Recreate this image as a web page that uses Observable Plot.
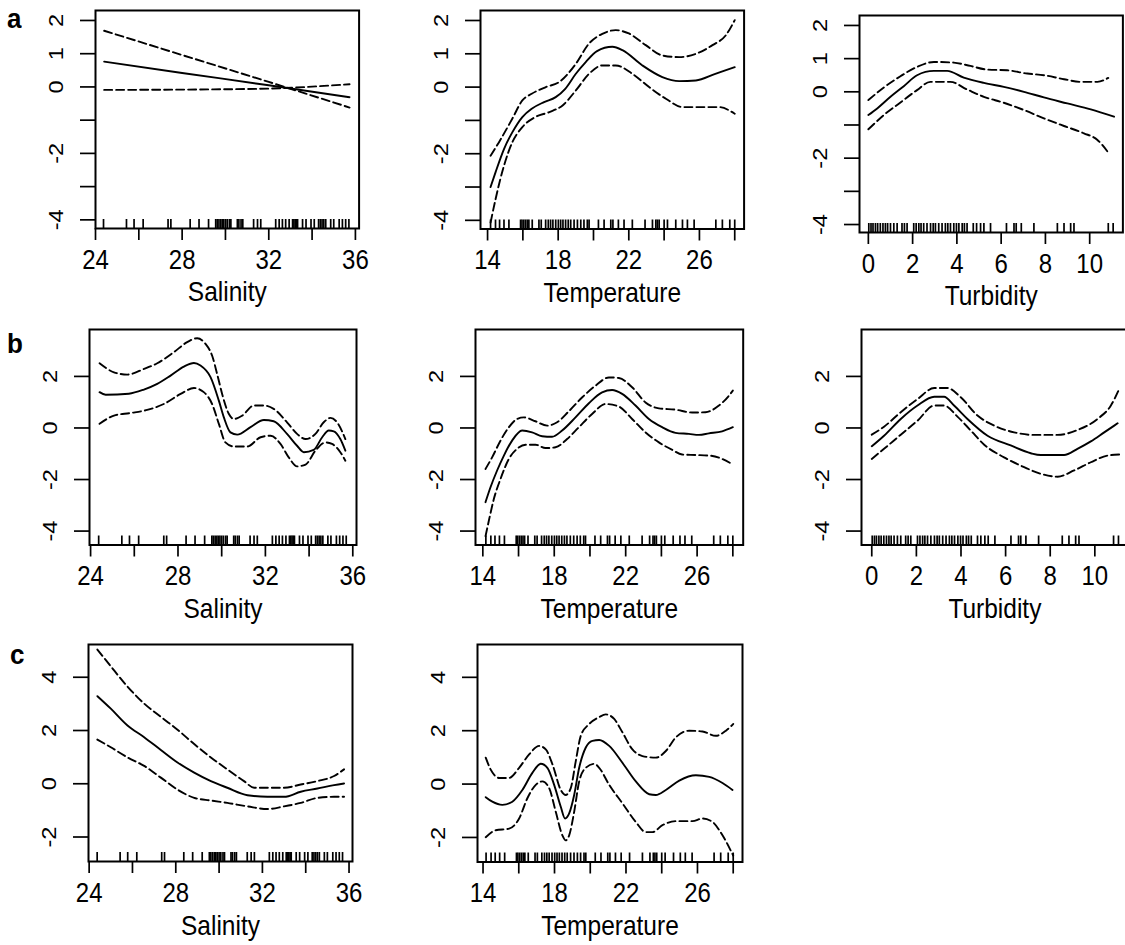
<!DOCTYPE html>
<html><head><meta charset="utf-8">
<script src="https://cdn.jsdelivr.net/npm/d3@7"></script>
<script src="https://cdn.jsdelivr.net/npm/@observablehq/plot@0.6"></script>
<style>
html,body{margin:0;padding:0;background:#fff;overflow:hidden;}
#wrap{position:relative;width:1125px;height:945px;overflow:hidden;background:#fff;}
.lab{position:absolute;font:bold 26px "Liberation Sans",Arial,sans-serif;line-height:1;color:#000;transform-origin:0 0;transform:scaleY(1.08);}
</style></head><body><div id="wrap"></div>
<script>
// ---------- tick values ----------
const salTicks = [24,26,28,30,32,34,36];
const salLabels = [24,28,32,36];
const tempTicks = [14,16,18,20,22,24,26,28];
const tempLabels = [14,18,22,26];
const turbTicks = [0,2,4,6,8,10];
const turbLabels = [0,2,4,6,8,10];
const yTicksA = [-4,-3,-2,-1,0,1,2];
const yLabelsA = [-4,-2,0,1,2];
const yTicksB = [-4,-2,0,2];
const yLabelsB = [-4,-2,0,2];
const yTicksC = [-2,0,2,4];
const yLabelsC = [-2,0,2,4];

// ---------- rug (observations) ----------
const salRug = [24.37,25.43,25.78,26.2,27.35,27.48,28.37,28.78,29.22,29.55,29.62,29.7,29.78,29.85,29.92,30.0,30.08,30.18,30.25,30.55,30.62,30.72,30.8,31.3,31.48,31.63,32.32,32.48,32.63,32.78,32.94,33.1,33.16,33.22,33.28,33.33,33.56,33.72,33.95,34.1,34.3,34.38,34.46,34.54,34.63,34.86,35.0,35.25,35.4,35.55,35.7];
const tempRug = [14.17,14.45,14.68,14.93,15.21,15.87,15.95,16.05,16.15,16.25,16.34,16.53,16.91,17.04,17.29,17.44,17.57,17.7,17.86,18.01,18.14,18.27,18.42,18.57,18.71,18.9,19.09,19.28,19.46,19.65,19.75,20.28,20.6,20.98,21.1,21.41,21.73,22.2,22.92,23.34,23.53,23.62,23.72,24.0,24.19,24.66,25.04,25.32,25.7,26.93,27.3,27.72,28.0];
const turbRug = [0.02,0.12,0.21,0.32,0.42,0.54,0.66,0.77,0.87,1.0,1.15,1.3,1.52,1.63,1.75,2.05,2.16,2.28,2.38,2.5,2.65,2.81,2.93,3.03,3.18,3.33,3.48,3.59,3.71,3.86,3.98,4.09,4.24,4.34,4.46,4.74,4.89,5.07,5.22,5.52,6.24,6.58,6.68,6.91,7.48,8.54,8.84,9.14,9.29,10.84,11.06];

// ---------- row a ----------
const aSalFit = [[24.4,0.76],[28,0.42],[32,0.05],[35.73,-0.31]];
const aSalHi  = [[24.4,1.69],[28,0.96],[32,0.15],[35.73,-0.62]];
const aSalLo  = [[24.4,-0.09],[30,-0.07],[32,-0.05],[35.73,0.08]];

const aTempFit = [[14.17,-3.0],[14.45,-2.56],[14.93,-1.86],[15.4,-1.36],[15.97,-0.9],[16.5,-0.65],[17.2,-0.45],[17.86,-0.3],[18.4,-0.05],[19.0,0.4],[19.56,0.75],[20.2,1.08],[21.07,1.21],[21.64,1.11],[22.77,0.65],[23.9,0.3],[24.85,0.18],[25.8,0.2],[26.9,0.4],[28.0,0.6]];
const aTempHi  = [[14.17,-2.06],[14.64,-1.66],[15.4,-0.95],[15.97,-0.4],[16.5,-0.2],[17.3,0.0],[18.05,0.15],[19.0,0.7],[19.75,1.31],[20.5,1.6],[21.26,1.71],[22.0,1.61],[22.96,1.26],[23.9,0.95],[24.85,0.9],[25.8,1.0],[26.74,1.26],[27.5,1.56],[28.0,2.01]];
const aTempLo  = [[14.17,-4.07],[14.45,-3.37],[14.93,-2.36],[15.4,-1.66],[15.97,-1.2],[16.7,-0.9],[17.5,-0.75],[18.25,-0.55],[19.0,-0.1],[19.75,0.4],[20.5,0.65],[21.26,0.65],[22.2,0.4],[23.15,0.0],[24.1,-0.35],[25.04,-0.6],[25.98,-0.6],[27.1,-0.6],[28.0,-0.8]];

const aTurbFit = [[0,-0.7],[0.4,-0.5],[1.0,-0.15],[1.6,0.17],[2.2,0.5],[2.96,0.63],[3.56,0.63],[4.31,0.43],[5.22,0.27],[6.12,0.15],[7.03,0.0],[7.93,-0.17],[8.99,-0.35],[10.05,-0.53],[11.1,-0.75]];
const aTurbHi  = [[0,-0.25],[0.7,0.13],[1.45,0.47],[2.2,0.75],[2.96,0.9],[3.86,0.88],[4.61,0.78],[5.37,0.67],[6.27,0.65],[7.18,0.55],[7.93,0.5],[8.84,0.38],[9.59,0.3],[10.35,0.3],[10.84,0.42]];
const aTurbLo  = [[0,-1.13],[0.7,-0.7],[1.45,-0.32],[2.2,0.05],[2.8,0.3],[3.7,0.3],[4.46,0.07],[5.22,-0.15],[6.12,-0.33],[7.03,-0.55],[7.93,-0.8],[8.84,-1.03],[9.74,-1.25],[10.35,-1.45],[10.84,-1.83]];

// ---------- row b ----------
const bSalFit = [[24.41,1.39],[24.69,1.29],[25.75,1.33],[26.44,1.49],[27.05,1.71],[27.66,2.03],[28.27,2.38],[28.73,2.52],[29.03,2.42],[29.49,1.97],[29.87,1.06],[30.1,0.41],[30.4,-0.17],[30.71,-0.26],[31.32,0.03],[31.93,0.31],[32.38,0.26],[32.99,-0.23],[33.45,-0.69],[33.76,-0.94],[34.21,-0.85],[34.6,-0.36],[34.9,-0.1],[35.13,-0.13],[35.43,-0.43],[35.66,-0.88]];
const bSalHi  = [[24.41,2.51],[25.07,2.16],[25.68,2.07],[26.44,2.29],[27.05,2.51],[27.81,2.94],[28.42,3.33],[28.88,3.48],[29.26,3.26],[29.56,2.81],[29.79,2.1],[30.02,1.32],[30.33,0.54],[30.56,0.35],[30.94,0.48],[31.47,0.87],[31.93,0.87],[32.38,0.74],[32.99,0.22],[33.45,-0.23],[33.84,-0.43],[34.29,-0.23],[34.67,0.22],[34.98,0.39],[35.28,0.22],[35.66,-0.43]];
const bSalLo  = [[24.41,0.16],[25.07,0.48],[25.83,0.58],[26.59,0.7],[27.35,0.93],[28.12,1.32],[28.73,1.55],[29.18,1.39],[29.56,0.93],[29.87,0.16],[30.17,-0.56],[30.56,-0.72],[31.17,-0.72],[31.78,-0.36],[32.24,-0.3],[32.69,-0.62],[33.07,-1.14],[33.45,-1.49],[33.84,-1.42],[34.29,-0.88],[34.75,-0.56],[35.05,-0.62],[35.43,-0.94],[35.66,-1.27]];

const bTempFit = [[14.15,-2.88],[14.43,-2.3],[14.8,-1.65],[15.18,-1.07],[15.64,-0.49],[16.2,-0.1],[16.76,-0.17],[17.32,-0.32],[17.88,-0.34],[18.44,-0.1],[19.19,0.41],[19.94,0.96],[20.68,1.38],[21.24,1.47],[21.8,1.32],[22.55,0.87],[23.3,0.35],[24.04,0.03],[24.79,-0.19],[25.54,-0.23],[26.1,-0.27],[26.66,-0.21],[27.4,-0.13],[28.0,0.03]];
const bTempHi  = [[14.15,-1.59],[14.52,-1.14],[14.99,-0.49],[15.46,0.03],[15.92,0.35],[16.3,0.41],[16.95,0.26],[17.6,0.09],[18.16,0.22],[18.82,0.65],[19.57,1.19],[20.31,1.64],[21.06,1.96],[21.62,1.94],[22.36,1.58],[23.11,0.99],[23.86,0.76],[24.79,0.71],[25.72,0.6],[26.47,0.61],[27.22,0.87],[27.78,1.25],[28.0,1.45]];
const bTempLo  = [[14.15,-4.2],[14.34,-3.59],[14.62,-2.75],[14.99,-1.98],[15.46,-1.2],[15.92,-0.81],[16.39,-0.65],[16.95,-0.65],[17.51,-0.78],[18.07,-0.75],[18.72,-0.43],[19.38,0.03],[20.12,0.54],[20.87,0.93],[21.62,0.83],[22.36,0.35],[23.11,-0.17],[23.86,-0.56],[24.61,-0.85],[25.16,-1.03],[25.91,-1.05],[26.66,-1.07],[27.4,-1.2],[28.0,-1.42]];

const bTurbFit = [[0,-0.71],[0.55,-0.3],[1.3,0.35],[2.05,0.87],[2.8,1.21],[3.24,1.21],[3.69,0.87],[4.29,0.35],[5.19,-0.3],[6.23,-0.68],[7.13,-0.98],[7.58,-1.05],[8.62,-1.05],[9.22,-0.81],[9.82,-0.52],[10.42,-0.17],[11.02,0.18]];
const bTurbHi  = [[0,-0.26],[0.55,0.05],[1.3,0.61],[2.05,1.12],[2.8,1.55],[3.39,1.55],[3.99,1.19],[4.74,0.48],[5.49,0.09],[6.38,-0.17],[7.28,-0.27],[8.33,-0.27],[9.22,-0.08],[10.12,0.35],[10.72,0.87],[11.09,1.51]];
const bTurbLo  = [[0,-1.2],[0.55,-0.81],[1.3,-0.26],[2.05,0.28],[2.8,0.87],[3.24,0.87],[3.84,0.44],[4.44,-0.1],[5.04,-0.65],[5.93,-1.14],[6.83,-1.52],[7.58,-1.78],[8.33,-1.89],[9.07,-1.65],[9.82,-1.33],[10.57,-1.07],[11.09,-1.03]];

// ---------- row c ----------
const cSalFit = [[24.38,3.29],[25.0,2.82],[25.77,2.19],[26.54,1.75],[27.31,1.27],[28.08,0.8],[28.85,0.42],[29.62,0.1],[30.38,-0.15],[31.31,-0.43],[32.23,-0.49],[33.0,-0.49],[33.77,-0.3],[34.54,-0.18],[35.31,-0.05],[35.77,0.01]];
const cSalHi  = [[24.38,5.04],[25.0,4.41],[25.77,3.65],[26.54,3.01],[27.31,2.51],[28.08,2.03],[28.85,1.49],[29.62,0.99],[30.38,0.54],[31.15,0.1],[31.62,-0.15],[32.23,-0.15],[33.0,-0.15],[33.77,-0.03],[34.54,0.1],[35.31,0.29],[35.77,0.54]];
const cSalLo  = [[24.38,1.66],[25.0,1.37],[25.77,0.99],[26.54,0.67],[27.31,0.23],[28.08,-0.22],[28.85,-0.53],[29.62,-0.63],[30.38,-0.72],[31.31,-0.85],[32.23,-0.95],[33.0,-0.85],[33.77,-0.72],[34.54,-0.53],[35.31,-0.49],[35.77,-0.49]];

const cTempFit = [[14.15,-0.49],[14.52,-0.66],[15.08,-0.78],[15.64,-0.66],[16.2,-0.22],[16.76,0.42],[17.23,0.76],[17.6,0.61],[17.98,-0.03],[18.35,-0.85],[18.59,-1.29],[18.82,-1.1],[19.1,-0.41],[19.38,0.61],[19.75,1.37],[20.12,1.62],[20.5,1.65],[21.06,1.43],[21.8,0.8],[22.55,0.1],[23.3,-0.38],[23.67,-0.41],[24.23,-0.22],[24.98,0.13],[25.91,0.33],[26.66,0.27],[27.4,0.04],[27.96,-0.22]];
const cTempHi  = [[14.15,0.99],[14.43,0.54],[14.9,0.23],[15.46,0.23],[16.02,0.61],[16.58,1.11],[17.14,1.43],[17.51,1.3],[17.89,0.73],[18.35,-0.22],[18.63,-0.41],[18.91,-0.15],[19.19,0.86],[19.47,1.81],[19.94,2.25],[20.5,2.51],[20.87,2.61],[21.34,2.44],[21.8,1.94],[22.36,1.3],[22.92,1.05],[23.67,0.99],[24.23,1.24],[24.79,1.75],[25.54,2.0],[26.28,1.97],[27.03,1.81],[27.59,2.0],[28.0,2.25]];
const cTempLo  = [[14.15,-1.99],[14.71,-1.73],[15.46,-1.67],[16.02,-1.29],[16.48,-0.53],[16.95,-0.03],[17.32,0.1],[17.7,-0.15],[18.07,-1.04],[18.44,-1.92],[18.63,-2.11],[18.82,-1.92],[19.1,-1.04],[19.38,0.1],[19.75,0.61],[20.22,0.76],[20.5,0.61],[21.06,-0.03],[21.8,-0.72],[22.55,-1.42],[23.11,-1.8],[23.48,-1.8],[24.04,-1.54],[24.79,-1.39],[25.72,-1.39],[26.28,-1.29],[26.84,-1.42],[27.4,-1.92],[28.0,-2.68]];

// ---------- layout (page pixel frames) ----------
const panels = [
  {L:94.7, R:358.3, T:10,  B:228,   xd:[24,36.17],   yd:[-4.26,2.3],  xt:salTicks,  xl:salLabels,  yt:yTicksA, yl:yLabelsA, rug:salRug,  fit:aSalFit,  hi:aSalHi,  lo:aSalLo,  title:"Salinity"},
  {L:479.7,R:743.3, T:9.5, B:228,   xd:[13.6,28.53], yd:[-4.26,2.3],  xt:tempTicks, xl:tempLabels, yt:yTicksA, yl:yLabelsA, rug:tempRug, fit:aTempFit, hi:aTempHi, lo:aTempLo, title:"Temperature"},
  {L:859.3,R:1122.7,T:15,  B:232,   xd:[-0.4,11.5],  yd:[-4.24,2.3],  xt:turbTicks, xl:turbLabels, yt:yTicksA, yl:yLabelsA, rug:turbRug, fit:aTurbFit, hi:aTurbHi, lo:aTurbLo, title:"Turbidity"},
  {L:89,   R:356,   T:329, B:544.5, xd:[23.95,36.17],yd:[-4.54,3.82], xt:salTicks,  xl:salLabels,  yt:yTicksB, yl:yLabelsB, rug:salRug,  fit:bSalFit,  hi:bSalHi,  lo:bSalLo,  title:"Salinity"},
  {L:475,  R:742.7, T:329, B:544.5, xd:[13.59,28.58],yd:[-4.54,3.82], xt:tempTicks, xl:tempLabels, yt:yTicksB, yl:yLabelsB, rug:tempRug, fit:bTempFit, hi:bTempHi, lo:bTempLo, title:"Temperature"},
  {L:860.7,R:1127.5,T:328.5,B:544,  xd:[-0.46,11.5], yd:[-4.54,3.82], xt:turbTicks, xl:turbLabels, yt:yTicksB, yl:yLabelsB, rug:turbRug, fit:bTurbFit, hi:bTurbHi, lo:bTurbLo, title:"Turbidity"},
  {L:87.7, R:351.7, T:644, B:861,   xd:[23.97,36.16],yd:[-2.92,5.23], xt:salTicks,  xl:salLabels,  yt:yTicksC, yl:yLabelsC, rug:salRug,  fit:cSalFit,  hi:cSalHi,  lo:cSalLo,  title:"Salinity"},
  {L:476.7,R:741.7, T:644, B:861.5, xd:[13.69,28.52],yd:[-2.92,5.23], xt:tempTicks, xl:tempLabels, yt:yTicksC, yl:yLabelsC, rug:tempRug, fit:cTempFit, hi:cTempHi, lo:cTempLo, title:"Temperature"}
];

const wrap = document.getElementById("wrap");
const FONT = "Liberation Sans, Arial, Helvetica, sans-serif";

function stretch(nodes, s) {
  nodes.forEach(t => {
    const tr = t.getAttribute("transform") || "";
    t.setAttribute("transform", (tr + " " + s).trim());
  });
}

function drawPanel(p) {
  const ml = 70, mr = 4, mt = 6, mb = 82;
  const w = p.R - p.L + ml + mr, h = p.B - p.T + mt + mb;
  const innerH = p.B - p.T;
  const chart = Plot.plot({
    width: w, height: h,
    marginLeft: ml, marginRight: mr, marginTop: mt, marginBottom: mb,
    x: {domain: p.xd, label: null},
    y: {domain: p.yd, label: null},
    style: {fontFamily: FONT, fontSize: "24px", color: "#000", background: "transparent", overflow: "visible", maxWidth: "none"},
    marks: [
      Plot.tickX(p.rug, {x: d => d, insetTop: innerH - 9, stroke: "#000", strokeWidth: 1.7}),
      Plot.line(p.lo, {x: d => d[0], y: d => d[1], stroke: "#000", strokeWidth: 1.9, strokeDasharray: "8,4", curve: "monotone-x"}),
      Plot.line(p.hi, {x: d => d[0], y: d => d[1], stroke: "#000", strokeWidth: 1.9, strokeDasharray: "8,4", curve: "monotone-x"}),
      Plot.line(p.fit, {x: d => d[0], y: d => d[1], stroke: "#000", strokeWidth: 1.9, curve: "monotone-x"}),
      Plot.frame({stroke: "#000", strokeWidth: 2}),
      Plot.axisX({ticks: p.xt, tickSize: 12, tickPadding: 8.5, strokeWidth: 1.7, stroke: "#000",
                  tickFormat: d => p.xl.includes(d) ? String(d) : "", label: null}),
      Plot.axisY({ticks: p.yt, tickSize: 15, strokeWidth: 1.7, stroke: "#000", tickFormat: () => "", label: null}),
      Plot.text(p.yl, {y: d => d, text: d => String(d), frameAnchor: "left", dx: -33, rotate: -90,
                       textAnchor: "middle", lineAnchor: "bottom", fontSize: 20.5, fill: "#000"}),
      Plot.text([p.title], {text: d => d, frameAnchor: "bottom", dy: 73, lineAnchor: "bottom", fontSize: 24.5, fill: "#000"})
    ]
  });
  // the reference image is slightly stretched vertically: mimic on text
  stretch(chart.querySelectorAll('g[aria-label="x-axis tick label"] text'), "scale(1,1.15)");
  chart.querySelectorAll('g[aria-label="text"] text').forEach(t => {
    const tr = t.getAttribute("transform") || "";
    if (tr.includes("rotate")) stretch([t], "scale(1.15,1)");
    else if (tr) stretch([t], "scale(1,1.1)");
  });
  chart.style.position = "absolute";
  chart.style.left = (p.L - ml) + "px";
  chart.style.top = (p.T - mt) + "px";
  wrap.appendChild(chart);
}
panels.forEach(drawPanel);

const letters = [["a", 7, 4], ["b", 7, 329], ["c", 10, 640]];
for (const [t, x, y] of letters) {
  const d = document.createElement("div");
  d.className = "lab";
  d.textContent = t;
  d.style.left = x + "px";
  d.style.top = y + "px";
  wrap.appendChild(d);
}
</script></body></html>
